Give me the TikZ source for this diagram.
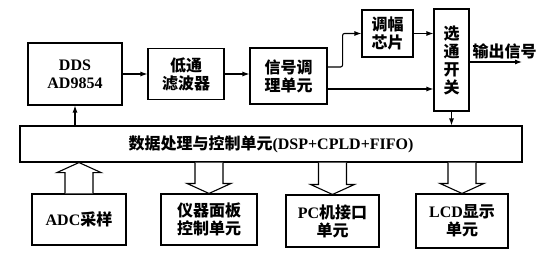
\documentclass[tikz,border=0pt]{standalone}
\usepackage{fontspec}
\setmainfont{Liberation Serif}
\newfontfamily\cjk{Noto Sans CJK SC}
\usetikzlibrary{arrows.meta, positioning, calc}
\newcommand{\zh}[1]{{\cjk\bfseries #1}}
\tikzset{
  every picture/.style={font=\bfseries\fontsize{16}{18}\selectfont, line width=1.1pt},
  box/.style={draw, align=center, inner sep=2pt},
  arrow/.style={-{Latex[length=7pt, width=5pt]}, line width=1.1pt},
  fat/.style={draw, line width=1.1pt, fill=white, line join=miter},
}
% hollow block arrow from #1 (tail) to #2 (tip)
\newcommand{\fatarrow}[2]{%
  \coordinate (hb) at ($(#2)!10pt!(#1)$);
  \draw[fat] ($(#1)+(-14,0)$) -- ($(hb)+(-14,0)$) -- ($(hb)+(-22,0)$) -- (#2)
    -- ($(hb)+(22,0)$) -- ($(hb)+(14,0)$) -- ($(#1)+(14,0)$);
}

\begin{document}
\begin{tikzpicture}[x=1pt, y=-1pt]
  \useasboundingbox (0,0) rectangle (548,267);
  % signal chain
  \node[box, minimum width=94pt, minimum height=62pt] (dds) at (75,74) {DDS\\AD9854};
  \node[box, minimum width=76pt, minimum height=51pt] (lpf) at (186,74) {\zh{低通}\\\zh{滤波器}};
  \node[box, minimum width=77pt, minimum height=56pt] (sig) at (288.5,76) {\zh{信号调}\\\zh{理单元}};
  \node[box, minimum width=51pt, minimum height=47pt] (mod) at (387.5,33.5) {\zh{调幅}\\\zh{芯片}};
  \node[box, minimum width=35pt, minimum height=102pt] (sw) at (451.5,60) {\zh{选}\\\zh{通}\\\zh{开}\\\zh{关}};
  \coordinate (out) at (522,62);
  \node[anchor=west, inner sep=1pt] (outl) at (471,51) {\zh{输出信号}};
  \draw[arrow] (dds.east) -- (lpf.west);
  \draw[arrow] (lpf.east) -- (lpf.east -| sig.west);
  \draw[arrow, rounded corners=2pt] ([yshift=9pt]sig.east) -- ++(15,0) |- (mod.west);
  \draw[arrow] ([yshift=-13pt]sig.east) -- ([yshift=-13pt]sig.east -| sw.west);
  \draw[arrow] (mod.east) -- (mod.east -| sw.west);
  \draw[arrow] (sw.east |- out) -- (out);
  % control unit
  \node[box, minimum width=502pt, minimum height=36pt] (main) at (271,144) {\zh{数据处理与控制单元}(DSP+CPLD+FIFO)};
  \draw[arrow] (sw.south) -- (sw.south |- main.north);
  \draw[arrow] (dds.south |- main.north) -- (dds.south);
  % peripherals
  \node[box, minimum width=94pt, minimum height=51pt] (adc) at (79,219.5) {ADC\zh{采样}};
  \node[box, minimum width=96pt, minimum height=51pt] (panel) at (209,219.5) {\zh{仪器面板}\\\zh{控制单元}};
  \node[box, minimum width=93pt, minimum height=52pt] (pc) at (332.5,221) {PC\zh{机接口}\\\zh{单元}};
  \node[box, minimum width=92pt, minimum height=54pt] (lcd) at (462,221) {LCD\zh{显示}\\\zh{单元}};
  \fatarrow{adc.north}{adc.north |- main.south}
  \fatarrow{panel.north |- main.south}{panel.north}
  \fatarrow{pc.north |- main.south}{pc.north}
  \fatarrow{lcd.north |- main.south}{lcd.north}
\end{tikzpicture}
\end{document}
